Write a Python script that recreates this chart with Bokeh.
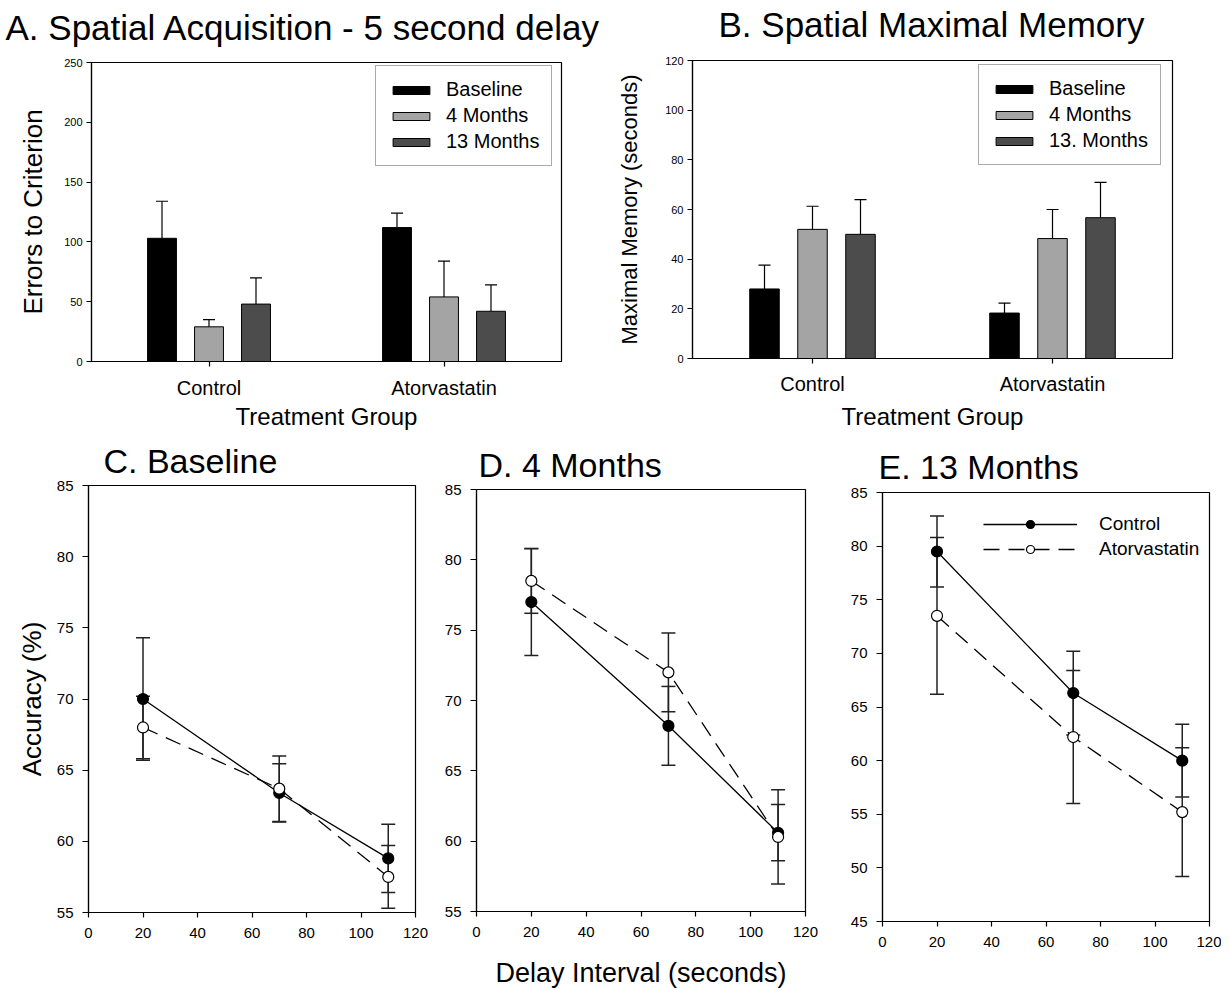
import numpy as np
from bokeh.plotting import figure
from bokeh.models import (ColumnDataSource, Whisker, TeeHead, FixedTicker, Legend,
                          LegendItem, Range1d, Title)
from bokeh.layouts import row, column
from bokeh.embed import file_html
from bokeh.resources import INLINE

FONT = "Liberation Sans"

# ---------------- data ----------------
groups = ["Control", "Atorvastatin"]
group_pos = [0, 1]
sessions = ["Baseline", "4 Months", "13 Months"]
sessions_b = ["Baseline", "4 Months", "13. Months"]

# A. Errors to criterion
acq_baseline = [103, 112]
acq_baseline_err = [31, 12]
acq_4m = [29, 54]
acq_4m_err = [6, 30]
acq_13m = [48, 42]
acq_13m_err = [22, 22]
acq_ticks = [0, 50, 100, 150, 200, 250]

# B. Maximal memory (seconds)
mem_baseline = [28, 18.3]
mem_baseline_err = [9.6, 4.0]
mem_4m = [52, 48.3]
mem_4m_err = [9.3, 11.7]
mem_13m = [50, 56.7]
mem_13m_err = [14.0, 14.2]
mem_ticks = [0, 20, 40, 60, 80, 100, 120]

# C-E. Accuracy vs delay
delays = [20, 70, 110]
delay_ticks = [0, 20, 40, 60, 80, 100, 120]
acc_ticks_ce = [55, 60, 65, 70, 75, 80, 85]
acc_ticks_e = [45, 50, 55, 60, 65, 70, 75, 80, 85]

base_ctrl = [70.0, 63.4, 58.8]
base_ctrl_err = [4.3, 2.05, 2.4]
base_ator = [68.0, 63.7, 57.5]
base_ator_err = [2.2, 2.3, 2.2]

m4_ctrl = [77.0, 68.2, 60.6]
m4_ctrl_err = [3.8, 2.8, 2.0]
m4_ator = [78.5, 72.0, 60.3]
m4_ator_err = [2.3, 2.8, 3.35]

m13_ctrl = [79.5, 66.3, 60.0]
m13_ctrl_err = [3.3, 3.9, 3.4]
m13_ator = [73.5, 62.2, 55.2]
m13_ator_err = [7.3, 6.2, 6.0]

bar_colors = ["#000000", "#a4a4a4", "#4c4c4c"]


def base_style(p):
    p.grid.visible = False
    p.outline_line_color = "black"
    p.outline_line_width = 1.2
    for ax in (p.xaxis, p.yaxis):
        ax.axis_line_color = "black"
        ax.axis_line_width = 1.2
        ax.major_tick_line_color = "black"
        ax.major_tick_line_width = 1.2
        ax.minor_tick_line_color = None
        ax.major_tick_in = 0
        ax.major_label_text_font = FONT
        ax.major_label_text_color = "black"
        ax.axis_label_text_font = FONT
        ax.axis_label_text_font_style = "normal"
        ax.axis_label_text_color = "black"


def make_title(text, size, offset, standoff):
    return Title(text=text, text_font=FONT, text_font_style="normal",
                 text_color="black", text_font_size=size, align="left",
                 offset=offset, standoff=standoff)


def bar_panel(title, ylabel, ymax, yticks, means, errs, labels, width, height,
              bl, br, bt, bb, title_offset, spacer_size, ylabel_size,
              ylabel_standoff, tick_standoff, xlabel_standoff, leg_loc):
    p = figure(width=width, height=height, x_range=Range1d(-0.5, 1.5),
               y_range=Range1d(0, ymax), output_backend="svg",
               toolbar_location=None, min_border_left=bl, min_border_right=br,
               min_border_top=bt, min_border_bottom=bb, frame_align=False)
    base_style(p)
    # thin spacer between frame and the panel title
    p.add_layout(Title(text=" ", text_font=FONT, text_font_size=spacer_size,
                       standoff=0), "above")
    p.add_layout(make_title(title, "35px", title_offset, 0), "above")
    offsets = [-0.2, 0.0, 0.2]
    items = []
    for k in range(3):
        x = np.array(group_pos, dtype=float) + offsets[k]
        m = np.array(means[k], dtype=float)
        up = m + np.array(errs[k], dtype=float)
        src = ColumnDataSource(dict(x=x, top=m, up=up))
        wh = Whisker(source=src, base="x", lower="top", upper="up",
                     dimension="height", line_color="black", line_width=1.2,
                     upper_head=TeeHead(size=12, line_color="black", line_width=1.2),
                     lower_head=None)
        p.add_layout(wh)
        r = p.vbar(x="x", top="top", bottom=0, width=0.123, source=src,
                   fill_color=bar_colors[k], line_color="black", line_width=1)
        items.append(LegendItem(label=labels[k], renderers=[r]))
    leg = Legend(items=items, location=leg_loc, glyph_width=46, glyph_height=10,
                 label_text_font=FONT, label_text_font_size="20px",
                 label_text_color="black",
                 label_height=20, padding=12, spacing=3, label_standoff=12,
                 border_line_color="#555555", border_line_width=1.5,
                 background_fill_color="white", background_fill_alpha=1.0,
                 margin=0)
    p.add_layout(leg)
    p.xaxis.ticker = FixedTicker(ticks=group_pos)
    p.xaxis.major_label_overrides = {group_pos[i]: groups[i] for i in range(2)}
    p.xaxis.major_label_text_font_size = "20px"
    p.xaxis.major_tick_out = 5
    p.xaxis.major_label_standoff = tick_standoff
    p.xaxis.axis_label = "Treatment Group"
    p.xaxis.axis_label_text_font_size = "24px"
    p.xaxis.axis_label_standoff = xlabel_standoff
    p.yaxis.ticker = FixedTicker(ticks=yticks)
    p.yaxis.major_label_text_font_size = "11px"
    p.yaxis.major_tick_out = 5
    p.yaxis.major_label_standoff = 4
    p.yaxis.axis_label = ylabel
    p.yaxis.axis_label_text_font_size = ylabel_size
    p.yaxis.axis_label_standoff = ylabel_standoff
    return p


def line_panel(title, yr, yticks, ctrl, ctrl_err, ator, ator_err, width, height,
               bl, br, bt, bb, title_offset, title_standoff, ylabel=None,
               xlabel=None, legend=False):
    p = figure(width=width, height=height, x_range=Range1d(0, 120),
               y_range=Range1d(*yr), output_backend="svg",
               toolbar_location=None, min_border_left=bl, min_border_right=br,
               min_border_top=bt, min_border_bottom=bb, frame_align=False)
    base_style(p)
    p.add_layout(make_title(title, "34px", title_offset, title_standoff), "above")
    rs = []
    for vals, err, fill, dash in ((ctrl, ctrl_err, "black", "solid"),
                                  (ator, ator_err, "white", "16 9")):
        v = np.array(vals, dtype=float)
        e = np.array(err, dtype=float)
        src = ColumnDataSource(dict(x=delays, y=v, lo=v - e, hi=v + e))
        wh = Whisker(source=src, base="x", lower="lo", upper="hi",
                     dimension="height", line_color="#222222", line_width=1.5,
                     upper_head=TeeHead(size=14, line_color="#222222", line_width=1.5),
                     lower_head=TeeHead(size=14, line_color="#222222", line_width=1.5))
        p.add_layout(wh)
        rs.append((src, fill, dash))
    leg_items = []
    lines = []
    for (src, fill, dash), lab in zip(rs, ["Control", "Atorvastatin"]):
        ln = p.line("x", "y", source=src, line_color="black", line_width=1.3,
                    line_dash=dash)
        lines.append((ln, src, fill, lab))
    for ln, src, fill, lab in lines:
        sc = p.scatter("x", "y", source=src, size=11, marker="circle",
                       fill_color=fill, line_color="black", line_width=1.2)
        leg_items.append(LegendItem(label=lab, renderers=[ln, sc]))
    if legend:
        leg = Legend(items=leg_items, location=(101, 361), glyph_width=94,
                     glyph_height=20, label_height=20, label_standoff=22,
                     padding=0, spacing=3, label_text_font=FONT,
                     label_text_font_size="19px", label_text_color="black",
                     border_line_color=None, background_fill_alpha=0, margin=0)
        p.add_layout(leg)
    p.xaxis.ticker = FixedTicker(ticks=delay_ticks)
    p.yaxis.ticker = FixedTicker(ticks=yticks)
    p.xaxis.major_label_text_font_size = "15px"
    p.yaxis.major_label_text_font_size = "15px"
    p.xaxis.major_tick_out = 5
    p.yaxis.major_tick_out = 6
    p.xaxis.major_label_standoff = 10
    p.yaxis.major_label_standoff = 9
    if ylabel:
        p.yaxis.axis_label = ylabel
        p.yaxis.axis_label_text_font_size = "26px"
        p.yaxis.axis_label_standoff = 7
    if xlabel:
        p.xaxis.axis_label = xlabel
        p.xaxis.axis_label_text_font_size = "27px"
        p.xaxis.axis_label_standoff = 18
    return p


pA = bar_panel("A. Spatial Acquisition - 5 second delay", "Errors to Criterion",
               250, acq_ticks, [acq_baseline, acq_4m, acq_13m],
               [acq_baseline_err, acq_4m_err, acq_13m_err], sessions,
               width=614, height=432, bl=91, br=53, bt=62, bb=70,
               title_offset=-86, spacer_size="12px", ylabel_size="26px",
               ylabel_standoff=13, tick_standoff=10, xlabel_standoff=1,
               leg_loc=(284, 195))
pB = bar_panel("B. Spatial Maximal Memory", "Maximal Memory (seconds)",
               120, mem_ticks, [mem_baseline, mem_4m, mem_13m],
               [mem_baseline_err, mem_4m_err, mem_13m_err], sessions_b,
               width=607, height=432, bl=78, br=49, bt=60, bb=72,
               title_offset=26, spacer_size="13px", ylabel_size="22px",
               ylabel_standoff=20, tick_standoff=9, xlabel_standoff=5,
               leg_loc=(286, 193))

pC = line_panel("C. Baseline", (55, 85), acc_ticks_ce, base_ctrl, base_ctrl_err,
                base_ator, base_ator_err, width=440, height=558,
                bl=88, br=25, bt=53, bb=78, title_offset=15, title_standoff=12,
                ylabel="Accuracy (%)")
pD = line_panel("D. 4 Months", (55, 85), acc_ticks_ce, m4_ctrl, m4_ctrl_err,
                m4_ator, m4_ator_err, width=400, height=558,
                bl=36, br=35, bt=57, bb=79, title_offset=2, title_standoff=11,
                xlabel="Delay Interval (seconds)")
pE = line_panel("E. 13 Months", (45, 85), acc_ticks_e, m13_ctrl, m13_ctrl_err,
                m13_ator, m13_ator_err, width=381, height=558,
                bl=42, br=12, bt=60, bb=69, title_offset=-4, title_standoff=13,
                legend=True)

layout = column(row(pA, pB), row(pC, pD, pE))

open("out.html", "w").write(file_html(layout, INLINE))
